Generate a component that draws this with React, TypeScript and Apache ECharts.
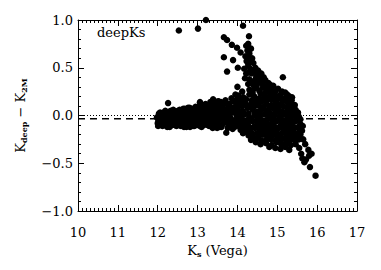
import React, { useEffect, useRef } from "react";
import * as echarts from "echarts";

// ---- data ----
const xTicks = [10, 11, 12, 13, 14, 15, 16, 17];
const yTicks = [-1.0, -0.5, 0.0, 0.5, 1.0];
const refDotted = 0.0;
const refDashed = -0.035;

const bandLeft: [number, number][] = [
  [11.98,-0.02],[12.0,-0.08],[12.02,-0.05],[12.03,0.02],[12.04,0.0],[12.05,-0.09],[12.07,-0.07],[12.08,0.01],[12.1,-0.03],[12.12,-0.11],
  [12.13,-0.02],[12.15,0.03],[12.17,0.0],[12.18,-0.06],[12.2,0.03],[12.21,-0.01],[12.22,-0.09],[12.23,-0.06],[12.25,0.02],[12.27,0.0],
  [12.28,-0.04],[12.3,-0.12],[12.32,-0.08],[12.33,0.05],[12.35,-0.07],[12.37,0.03],[12.38,-0.02],[12.4,-0.07],[12.41,0.01],[12.42,-0.1],
  [12.43,-0.03],[12.45,-0.05],[12.47,-0.11],[12.48,0.04],[12.5,-0.08],[12.52,-0.01],[12.53,0.02],[12.55,0.06],[12.57,-0.05],[12.58,-0.11],
  [12.6,-0.04],[12.61,0.05],[12.62,0.02],[12.63,-0.09],[12.65,-0.07],[12.67,0.0],[12.68,0.07],[12.7,-0.02],[12.72,-0.12],[12.73,0.05],
  [12.75,0.03],[12.77,-0.1],[12.78,-0.06],[12.8,0.08],[12.82,-0.09],[12.83,0.04],[12.85,0.0],[12.87,-0.08],[12.88,-0.04],[12.9,0.05],
  [12.91,-0.01],[12.92,-0.11],[12.93,0.01],[12.95,0.09],[12.97,-0.06],[12.98,-0.02],
  [12.01,-0.11],[12.06,0.03],[12.09,-0.1],[12.14,-0.07],[12.19,0.05],[12.24,-0.12],[12.29,0.04],[12.31,-0.01],[12.36,-0.1],[12.39,0.06],
  [12.44,0.0],[12.46,-0.08],[12.51,0.05],[12.54,-0.1],[12.59,0.0],[12.64,0.07],[12.66,-0.12],[12.69,-0.04],[12.74,-0.07],[12.76,0.08],
  [12.79,-0.01],[12.81,-0.12],[12.84,-0.05],[12.86,0.07],[12.89,-0.11],[12.94,-0.07],[12.96,0.03],[12.99,-0.1]
];

const bandMid: [number, number][] = [
  [13.0,0.04],[13.02,-0.01],[13.03,-0.08],[13.05,0.1],[13.07,0.07],[13.08,-0.03],[13.1,-0.12],[13.11,0.02],[13.12,0.06],[13.13,-0.05],
  [13.15,0.0],[13.17,0.09],[13.18,-0.07],[13.2,0.12],[13.21,-0.06],[13.22,0.03],[13.23,-0.02],[13.25,-0.1],[13.27,0.05],[13.28,-0.04],
  [13.3,0.08],[13.32,0.14],[13.33,-0.08],[13.35,-0.01],[13.37,0.1],[13.38,-0.13],[13.4,0.05],[13.41,0.0],[13.42,-0.06],[13.43,-0.11],
  [13.45,0.11],[13.47,0.06],[13.48,0.01],[13.5,-0.09],[13.51,0.0],[13.52,0.15],[13.53,-0.05],[13.55,0.07],[13.57,0.12],[13.58,-0.03],
  [13.6,-0.12],[13.61,0.03],[13.62,0.1],[13.63,-0.09],[13.65,0.02],[13.67,0.06],[13.68,-0.07],[13.7,0.16],[13.71,-0.06],[13.72,-0.18],
  [13.73,-0.03],[13.75,0.05],[13.77,0.09],[13.78,-0.1],[13.8,0.12],[13.81,0.02],[13.82,-0.02],[13.83,-0.08],[13.85,0.18],[13.87,0.04],
  [13.88,-0.14],[13.9,0.08],[13.91,-0.09],[13.92,-0.05],[13.93,-0.12],[13.95,0.14],[13.97,0.1],[13.98,0.0],
  [13.04,0.01],[13.06,-0.11],[13.09,0.04],[13.14,0.11],[13.16,-0.1],[13.19,0.0],[13.24,0.08],[13.26,0.0],[13.29,-0.11],[13.31,0.03],
  [13.34,0.11],[13.36,-0.05],[13.39,0.07],[13.44,-0.02],[13.46,0.14],[13.49,-0.13],[13.54,0.02],[13.56,-0.12],[13.59,0.14],[13.64,-0.03],
  [13.66,0.13],[13.69,0.0],[13.74,0.12],[13.76,-0.13],[13.79,0.0],[13.84,0.08],[13.86,-0.05],[13.89,0.15],[13.94,0.03],[13.96,-0.08],[13.99,0.17]
];

const blobRight: [number, number][] = [
  [14.02,0.21],[14.15,0.19],[14.3,0.22],[14.42,0.2],[14.55,0.18],[14.68,0.21],[14.8,0.19],[14.92,0.22],[15.05,0.2],[15.18,0.18],[15.3,0.2],
  [14.06,0.13],[14.18,0.15],[14.24,0.11],[14.36,0.14],[14.48,0.12],[14.6,0.15],[14.72,0.13],[14.85,0.11],[14.97,0.14],[15.1,0.12],[15.22,0.15],[15.34,0.13],[15.42,0.11],
  [14.0,0.07],[14.12,0.05],[14.25,0.08],[14.38,0.06],[14.5,0.04],[14.62,0.07],[14.75,0.05],[14.88,0.08],[15.0,0.06],[15.12,0.04],[15.25,0.07],[15.37,0.05],[15.46,0.06],
  [14.06,-0.01],[14.18,0.01],[14.3,-0.02],[14.43,0.0],[14.56,-0.01],[14.68,0.01],[14.8,-0.02],[14.93,0.0],[15.06,-0.01],[15.18,0.01],[15.3,-0.02],[15.42,0.0],[15.54,-0.01],
  [14.02,-0.08],[14.14,-0.07],[14.26,-0.09],[14.38,-0.06],[14.5,-0.08],[14.62,-0.07],[14.74,-0.09],[14.86,-0.08],[14.98,-0.06],[15.1,-0.09],[15.22,-0.07],[15.34,-0.08],[15.46,-0.06],[15.58,-0.09],
  [14.08,-0.15],[14.2,-0.14],[14.32,-0.16],[14.44,-0.13],[14.56,-0.15],[14.68,-0.16],[14.8,-0.14],[14.92,-0.15],[15.04,-0.13],[15.16,-0.16],[15.28,-0.14],[15.4,-0.15],[15.52,-0.13],[15.62,-0.16],
  [14.28,-0.21],[14.4,-0.23],[14.52,-0.22],[14.64,-0.2],[14.76,-0.23],[14.88,-0.21],[15.0,-0.22],[15.12,-0.24],[15.24,-0.21],[15.36,-0.23],[15.48,-0.22],[15.58,-0.2],
  [14.46,-0.28],[14.58,-0.3],[14.72,-0.29],[14.86,-0.31],[14.98,-0.28],[15.1,-0.3],[15.22,-0.29],[15.34,-0.31],[15.46,-0.3],
  [14.8,-0.33],[14.95,-0.34],[15.08,-0.35],[15.2,-0.33],[15.3,-0.36]
];

const blobFill: [number, number][] = [
  [14.08,0.165],[14.22,0.17],[14.36,0.16],[14.48,0.165],[14.62,0.17],[14.74,0.16],[14.86,0.165],[14.98,0.17],[15.12,0.16],[15.24,0.165],[15.36,0.16],
  [14.0,0.095],[14.12,0.1],[14.3,0.09],[14.42,0.095],[14.55,0.1],[14.66,0.09],[14.8,0.095],[14.92,0.1],[15.04,0.09],[15.16,0.095],[15.28,0.1],[15.4,0.09],
  [14.04,0.025],[14.16,0.03],[14.28,0.02],[14.44,0.025],[14.56,0.03],[14.7,0.02],[14.82,0.025],[14.95,0.03],[15.08,0.02],[15.2,0.025],[15.33,0.03],[15.45,0.02],[15.52,0.03],
  [14.0,-0.045],[14.12,-0.04],[14.24,-0.05],[14.36,-0.045],[14.5,-0.04],[14.62,-0.05],[14.74,-0.045],[14.87,-0.04],[15.0,-0.05],[15.12,-0.045],[15.24,-0.04],[15.36,-0.05],[15.48,-0.045],[15.58,-0.04],
  [14.05,-0.115],[14.17,-0.11],[14.3,-0.12],[14.42,-0.115],[14.55,-0.11],[14.67,-0.12],[14.8,-0.115],[14.92,-0.11],[15.05,-0.12],[15.17,-0.115],[15.3,-0.11],[15.42,-0.12],[15.54,-0.115],[15.64,-0.11],
  [14.14,-0.185],[14.26,-0.18],[14.38,-0.19],[14.5,-0.185],[14.62,-0.18],[14.74,-0.19],[14.86,-0.185],[14.98,-0.18],[15.1,-0.19],[15.22,-0.185],[15.34,-0.18],[15.46,-0.19],[15.56,-0.185],
  [14.34,-0.255],[14.46,-0.25],[14.6,-0.26],[14.72,-0.255],[14.84,-0.25],[14.96,-0.26],[15.08,-0.255],[15.2,-0.25],[15.32,-0.26],[15.44,-0.255],[15.54,-0.25]
];

const wedge: [number, number][] = [
  [13.99,0.71],[14.08,0.66],[14.22,0.73],[14.25,0.68],[14.2,0.62],[14.3,0.65],[14.23,0.57],[14.37,0.6],[14.27,0.53],[14.4,0.55],
  [14.17,0.49],[14.32,0.49],[14.45,0.5],[14.52,0.47],[14.22,0.44],[14.36,0.44],[14.5,0.42],[14.6,0.44],[14.19,0.39],[14.3,0.38],
  [14.44,0.37],[14.56,0.39],[14.7,0.37],[14.27,0.33],[14.4,0.32],[14.52,0.34],[14.65,0.32],[14.78,0.34],[14.9,0.31],[14.3,0.27],
  [14.42,0.28],[14.55,0.26],[14.64,0.29],[14.76,0.27],[14.88,0.26],[15.02,0.28],[14.12,0.25],[15.12,0.25],[15.2,0.24],[13.95,0.22],
  [14.0,0.3],[15.14,0.4],[14.87,0.19],[15.37,0.19],[15.44,0.11],
  [14.26,0.62],[14.33,0.56],[14.29,0.45],[14.42,0.46],[14.47,0.4],[14.35,0.35],[14.48,0.3],[14.6,0.34],[14.7,0.3],[14.82,0.29],
  [14.95,0.25],[15.08,0.22],[15.25,0.22],[14.38,0.24],[14.58,0.23],[14.7,0.24],[14.82,0.23],[14.27,0.75],[14.34,0.7],[14.57,0.43],
  [14.66,0.4],[14.83,0.32]
];

const sparse: [number, number][] = [
  [12.53,0.89],[13.01,0.91],[13.21,1.0],[14.14,0.94],[14.29,0.83],[13.66,0.82],[13.74,0.79],[13.86,0.74],[13.66,0.61],[13.89,0.58],
  [14.01,0.5],[13.74,0.46],[12.26,0.13],[13.06,0.14],[13.39,0.17]
];

const tail: [number, number][] = [
  [15.55,-0.34],[15.6,-0.4],[15.63,-0.45],[15.68,-0.49],[15.72,-0.46],[15.8,-0.42],[15.86,-0.4],[15.78,-0.36],[15.82,-0.54],[15.96,-0.63],
  [15.7,-0.3],[15.65,-0.25]
];

const FONT = "DejaVu Serif";

export default function App() {
  const ref = useRef<HTMLDivElement>(null);
  useEffect(() => {
    if (!ref.current) return;
    const chart = echarts.init(ref.current, null, { renderer: "svg" });
    const axisCommon = {
      type: "value" as const,
      axisLine: { show: true, onZero: false, lineStyle: { color: "#000", width: 1 } },
      axisTick: { show: true, inside: true, length: 6, lineStyle: { color: "#000", width: 1 } },
      splitLine: { show: false },
    };
    const fmtY = (v: number) => (v < 0 ? "\u2212" + Math.abs(v).toFixed(1) : v.toFixed(1));
    const allPts = [...bandLeft, ...bandMid, ...blobRight, ...blobFill, ...wedge, ...sparse, ...tail];
    const rich = {
      k: { fontFamily: FONT, fontSize: 13, color: "#000", lineHeight: 16, verticalAlign: "middle" },
      s: { fontFamily: FONT, fontSize: 8, color: "#000", fontWeight: "bold", verticalAlign: "bottom", lineHeight: 16 },
    };
    chart.setOption({
      animation: false,
      backgroundColor: "#fff",
      grid: { left: 78, right: 24, top: 20, bottom: 59 },
      xAxis: [
        {
          ...axisCommon,
          position: "bottom",
          min: xTicks[0],
          max: xTicks[xTicks.length - 1],
          interval: 1,
          minorTick: { show: true, splitNumber: 10, length: 3, lineStyle: { color: "#000" } },
          axisLabel: { color: "#000", fontFamily: FONT, fontSize: 13, margin: 15 },
          name: "{k|K}{s|s}{k| (Vega)}",
          nameLocation: "middle",
          nameGap: 30,
          nameTextStyle: { rich },
        },
        {
          ...axisCommon,
          position: "top",
          min: xTicks[0],
          max: xTicks[xTicks.length - 1],
          interval: 1,
          minorTick: { show: true, splitNumber: 10, length: 3, lineStyle: { color: "#000" } },
          axisLabel: { show: false },
        },
      ],
      yAxis: [
        {
          ...axisCommon,
          position: "left",
          min: yTicks[0],
          max: yTicks[yTicks.length - 1],
          interval: 0.5,
          minorTick: { show: true, splitNumber: 5, length: 3, lineStyle: { color: "#000" } },
          axisLabel: { color: "#000", fontFamily: FONT, fontSize: 13, margin: 5, formatter: fmtY },
          name: "{k|K}{s|deep}{k| \u2212 K}{s|2M}",
          nameLocation: "middle",
          nameRotate: 90,
          nameGap: 50,
          nameTextStyle: { rich },
        },
        {
          ...axisCommon,
          position: "right",
          min: yTicks[0],
          max: yTicks[yTicks.length - 1],
          interval: 0.5,
          minorTick: { show: true, splitNumber: 5, length: 3, lineStyle: { color: "#000" } },
          axisLabel: { show: false },
        },
      ],
      graphic: [
        {
          type: "text",
          left: 97,
          top: 26,
          style: { text: "deepKs", fontFamily: FONT, fontSize: 13, fill: "#000" },
        },
      ],
      series: [
        {
          type: "line",
          data: [[xTicks[0], refDotted], [xTicks[xTicks.length - 1], refDotted]],
          symbol: "none",
          lineStyle: { color: "#000", width: 1, type: [1, 2] },
          silent: true,
          z: 1,
        },
        {
          type: "line",
          data: [[xTicks[0], refDashed], [xTicks[xTicks.length - 1], refDashed]],
          symbol: "none",
          lineStyle: { color: "#000", width: 1.5, type: [7, 5] },
          silent: true,
          z: 1,
        },
        {
          type: "scatter",
          data: allPts,
          symbol: "circle",
          symbolSize: 6.5,
          itemStyle: { color: "#000", opacity: 1, borderWidth: 0 },
          z: 3,
        },
      ],
    });
    return () => chart.dispose();
  }, []);
  return <div ref={ref} style={{ position: "absolute", left: 0, top: 0, width: 381, height: 270 }} />;
}
